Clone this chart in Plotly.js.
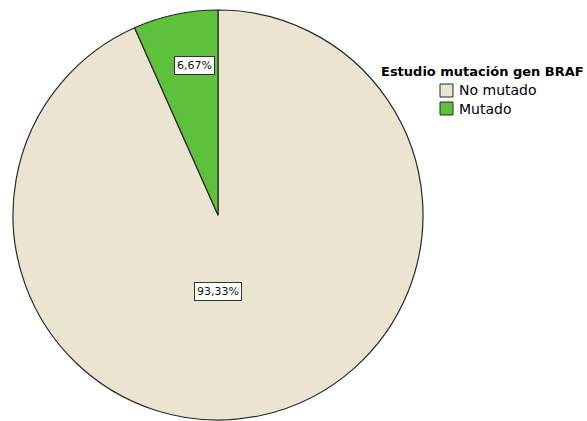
<!DOCTYPE html>
<html>
<head>
<meta charset="utf-8">
<script src="https://cdn.plot.ly/plotly-3.0.1.min.js"></script>
<style>
  html, body { margin: 0; padding: 0; background: #ffffff; }
  #chart { width: 587px; height: 421px; }
</style>
</head>
<body>
<div id="chart"></div>
<script>
// Categories and percentages for the BRAF mutation study
const categories = ['No mutado', 'Mutado'];
const percentages = [93.33, 6.67];
const legendTitle = 'Estudio mutación gen BRAF';

// Slice styling
const sliceColors = ['#EAE4D0', '#5DC13B'];
const outlineColor = '#2a2a2a';

// Pie placement (pixels) and label placement (angle clockwise from 12 o'clock, fraction of radius)
const W = 587, H = 421;
const cx = 218, cy = 215, r = 205;
const labelPlacement = [{deg: 180, frac: 0.375}, {deg: -9, frac: 0.74}];

// Legend block placement (pixels)
const legendBox = {titleX: 482, titleY: 71, swatchX: 440, firstY: 90.5, rowGap: 18, swatch: 13, textX: 457};

function fmtPct(v) {
  return v.toFixed(2).replace('.', ',') + '%';
}

const px2x = p => p / W;
const py2y = p => 1 - p / H;

// Percentage labels in white boxes
const annotations = percentages.map((v, i) => {
  const a = labelPlacement[i].deg * Math.PI / 180;
  const d = labelPlacement[i].frac * r;
  return {
    x: px2x(cx + d * Math.sin(a)), y: py2y(cy - d * Math.cos(a)),
    xref: 'paper', yref: 'paper', xanchor: 'center', yanchor: 'middle',
    text: fmtPct(v), showarrow: false,
    font: {family: 'DejaVu Sans', size: 11, color: '#111'},
    bgcolor: '#ffffff', bordercolor: '#333333', borderwidth: 1, borderpad: 2
  };
});

// Legend title
annotations.push({
  x: px2x(legendBox.titleX), y: py2y(legendBox.titleY), xref: 'paper', yref: 'paper',
  xanchor: 'center', yanchor: 'middle',
  text: '<b>' + legendTitle + '</b>', showarrow: false,
  font: {family: 'DejaVu Sans', size: 13, color: '#000'}
});

// Legend entries: swatch + category name
const shapes = [];
categories.forEach((c, i) => {
  const yc = legendBox.firstY + i * legendBox.rowGap;
  const h = legendBox.swatch / 2;
  shapes.push({
    type: 'rect', xref: 'paper', yref: 'paper',
    x0: px2x(legendBox.swatchX), x1: px2x(legendBox.swatchX + legendBox.swatch),
    y0: py2y(yc + h), y1: py2y(yc - h),
    fillcolor: sliceColors[i], line: {color: outlineColor, width: 1}
  });
  annotations.push({
    x: px2x(legendBox.textX), y: py2y(yc), xref: 'paper', yref: 'paper',
    xanchor: 'left', yanchor: 'middle',
    text: c, showarrow: false,
    font: {family: 'DejaVu Sans', size: 14, color: '#000'}
  });
});

const trace = {
  type: 'pie',
  labels: categories,
  values: percentages,
  sort: false,
  direction: 'clockwise',
  rotation: 0,
  textinfo: 'none',
  hoverinfo: 'label+percent',
  marker: {colors: sliceColors, line: {color: outlineColor, width: 1.2}},
  domain: {x: [(cx - r) / W, (cx + r) / W], y: [1 - (cy + r) / H, 1 - (cy - r) / H]}
};

const layout = {
  width: W, height: H,
  margin: {l: 0, r: 0, t: 0, b: 0},
  paper_bgcolor: '#ffffff',
  showlegend: false,
  shapes: shapes,
  annotations: annotations
};

Plotly.newPlot('chart', [trace], layout, {displayModeBar: false, staticPlot: true});
</script>
</body>
</html>
